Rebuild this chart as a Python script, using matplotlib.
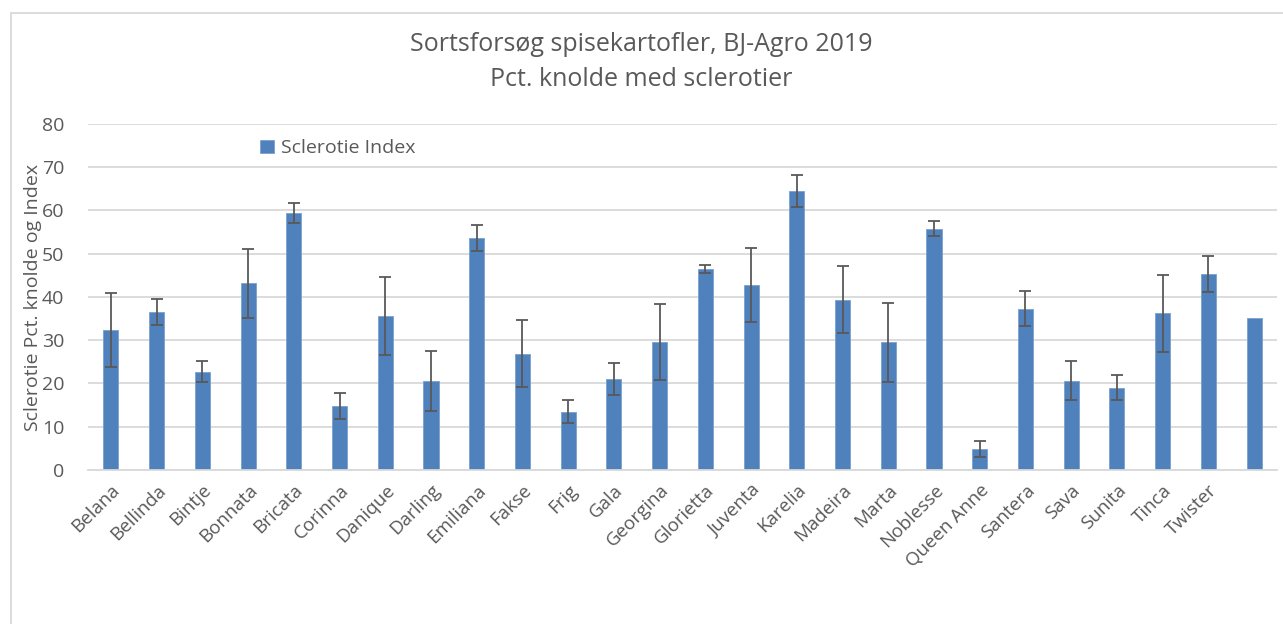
import matplotlib.pyplot as plt
import numpy as np
from matplotlib.patches import Rectangle

plt.rcParams["font.family"] = ["Open Sans", "DejaVu Sans"]

sorter = ["Belana", "Bellinda", "Bintje", "Bonnata", "Bricata", "Corinna", "Danique",
          "Darling", "Emiliana", "Fakse", "Frig", "Gala", "Georgina", "Glorietta",
          "Juventa", "Karelia", "Madeira", "Marta", "Noblesse", "Queen Anne",
          "Santera", "Sava", "Sunita", "Tinca", "Twister", ""]
index = [32.3, 36.5, 22.7, 43.2, 59.5, 14.8, 35.6, 20.6, 53.7, 26.9, 13.5, 21.1, 29.5,
         46.5, 42.8, 64.5, 39.4, 29.5, 55.8, 4.8, 37.3, 20.6, 19.0, 36.2, 45.3, 35.2]
fejl = [8.6, 3.0, 2.4, 8.0, 2.3, 3.0, 9.0, 7.0, 3.0, 7.8, 2.6, 3.7, 8.8,
        1.0, 8.6, 3.6, 7.7, 9.2, 1.8, 1.8, 4.0, 4.5, 2.9, 9.0, 4.2, 0.0]

grey = "#595959"
fig = plt.figure(figsize=(12.83, 6.24), dpi=100)
ax = fig.add_axes([0.0686, 0.2468, 0.9267, 0.5545])

x = np.arange(len(sorter))
ax.bar(x, index, width=0.33, color="#4F81BD", edgecolor="#7BA0CD", linewidth=0.6,
       label="Sclerotie Index", zorder=2)
m = np.array(fejl) > 0
ax.errorbar(x[m], np.array(index)[m], yerr=np.array(fejl)[m], fmt="none",
            ecolor=grey, elinewidth=1.3, capsize=4.5, capthick=1.3, zorder=3)

ax.set_xlim(-0.5, len(sorter) - 0.5)
ax.set_ylim(0, 80)
ax.set_yticks(range(0, 81, 10))
ax.set_xticks(x)
ax.set_xticklabels(sorter, rotation=45, ha="right", rotation_mode="anchor")
ax.tick_params(axis="both", length=0, labelsize=13.5, colors=grey)
ax.tick_params(axis="y", labelsize=14, pad=17)
ax.tick_params(axis="x", pad=8)
ax.grid(axis="y", color="#D9D9D9", linewidth=1.3, zorder=0)
for s in ["top", "right", "left"]:
    ax.spines[s].set_visible(False)
ax.spines["bottom"].set_color("#D9D9D9")
ax.spines["bottom"].set_linewidth(1.3)

ax.set_ylabel("Sclerotie Pct. knolde og Index", fontsize=14, color=grey, labelpad=0)
ax.legend(loc="upper left", bbox_to_anchor=(0.13, 1.006), frameon=False, fontsize=14,
          labelcolor=grey, handlelength=0.7, handleheight=0.7, handletextpad=0.4)

fig.text(0.5, 0.928, "Sortsforsøg spisekartofler, BJ-Agro 2019", ha="center", va="center",
         fontsize=18, color=grey)
fig.text(0.5, 0.873, "Pct. knolde med sclerotier", ha="center", va="center",
         fontsize=18, color=grey)

fig.patches.append(Rectangle((11 / 1283, -0.1), 1.2, 1 - 13 / 624 + 0.1, transform=fig.transFigure,
                             fill=False, edgecolor="#D9D9D9", linewidth=1.3))

fig.savefig("out.png", dpi=100)
